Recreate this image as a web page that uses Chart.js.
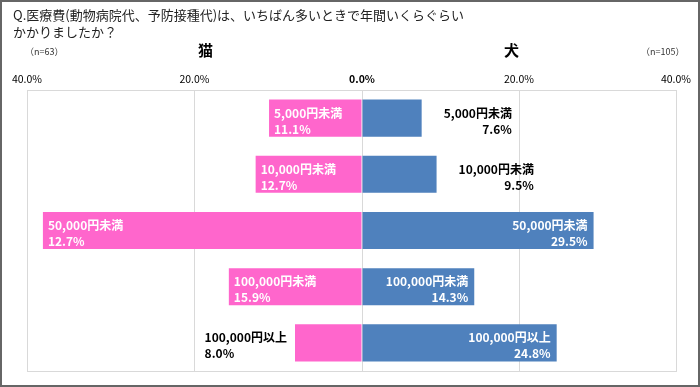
<!DOCTYPE html>
<html>
<head>
<meta charset="utf-8">
<script src="https://cdn.jsdelivr.net/npm/chart.js@4.4.1/dist/chart.umd.min.js"></script>
<style>
  body { margin: 0; background: #fff; }
  #wrap { position: relative; width: 700px; height: 387px; font-family: "Noto Sans CJK JP", sans-serif; }
  #wrap canvas { position: absolute; left: 0; top: 0; }
  #frame { position: absolute; left: 0; top: 0; width: 700px; height: 387px; box-sizing: border-box; border: 2px solid #666; pointer-events: none; }
  .txt { position: absolute; white-space: nowrap; line-height: 1; }
  .title { left: 13px; font-size: 13px; color: #222; }
  .n { font-size: 9px; color: #333; top: 47px; }
  .head { font-size: 15px; font-weight: bold; color: #000; top: 42px; }
</style>
</head>
<body>
<div id="wrap">
  <canvas id="catChart" width="700" height="387"></canvas>
  <canvas id="dogChart" width="700" height="387"></canvas>
  <div class="txt title" style="top:8px">Q.医療費(動物病院代、予防接種代)は、いちばん多いときで年間いくらぐらい</div>
  <div class="txt title" style="top:25px">かかりましたか？</div>
  <div class="txt n" style="left:25px">（n=63）</div>
  <div class="txt head" style="left:198px">猫</div>
  <div class="txt head" style="left:504px">犬</div>
  <div class="txt n" style="left:641px">（n=105）</div>
  <div id="frame"></div>
</div>
<script>
// ====================
// DATA
// ====================
const categories = ['5,000円未満', '10,000円未満', '50,000円未満', '100,000円未満', '100,000円以上'];
const catValues = [11.1, 12.7, 38.1, 15.9, 8.0];
const catValueLabels = ['11.1%', '12.7%', '12.7%', '15.9%', '8.0%']; // as printed
const dogValues = [7.6, 9.5, 29.5, 14.3, 24.8];
const dogValueLabels = dogValues.map(v => v.toFixed(1) + '%');
const tickValues = [0, 20, 40];

const CAT_COLOR = '#ff66cc';
const DOG_COLOR = '#4f81bd';
const GRID = '#d9d9d9';
const LABEL_FONT = 'bold 12px "Noto Sans CJK JP", sans-serif';

// labels next to / inside the bars
const barLabels = {
  id: 'barLabels',
  afterDatasetsDraw(chart, args, opts) {
    const ctx = chart.ctx;
    const meta = chart.getDatasetMeta(0);
    ctx.save();
    ctx.font = LABEL_FONT;
    ctx.textBaseline = 'middle';
    meta.data.forEach((bar, i) => {
      const lines = [categories[i], opts.texts[i]];
      const w = Math.max(...lines.map(t => ctx.measureText(t).width));
      const len = Math.abs(bar.x - bar.base);
      const inside = len > w + 10;
      let x;
      if (opts.side === 'left') {
        ctx.textAlign = 'left';
        x = inside ? bar.x + 5 : bar.x - 8 - w;
      } else {
        ctx.textAlign = 'right';
        x = inside ? bar.x - 6 : bar.x + 22 + w;
      }
      ctx.fillStyle = inside ? '#fff' : '#000';
      ctx.fillText(lines[0], x, bar.y - 5);
      ctx.fillText(lines[1], x, bar.y + 11);
    });
    ctx.restore();
  }
};

// light box round the plot area
const plotFrame = {
  id: 'plotFrame',
  beforeDatasetsDraw(chart) {
    const { ctx, chartArea: a } = chart;
    ctx.save();
    ctx.strokeStyle = GRID;
    ctx.lineWidth = 1;
    ctx.strokeRect(Math.round(a.left) + 0.5, Math.round(a.top) + 0.5,
      Math.round(a.right - a.left), Math.round(a.bottom - a.top));
    ctx.restore();
  }
};

function makeChart(id, values, color, side, texts) {
  const left = side === 'left';
  return new Chart(document.getElementById(id), {
    type: 'bar',
    data: {
      labels: categories,
      datasets: [{
        data: values,
        backgroundColor: color,
        borderWidth: 0,
        categoryPercentage: 1,
        barPercentage: 0.66
      }]
    },
    options: {
      indexAxis: 'y',
      responsive: false,
      animation: false,
      layout: {
        padding: left
          ? { left: 27, right: 338, top: 70, bottom: 16 }
          : { left: 362, right: 24, top: 70, bottom: 16 }
      },
      plugins: {
        legend: { display: false },
        tooltip: { enabled: false },
        barLabels: { side: side, texts: texts }
      },
      scales: {
        x: {
          position: 'top',
          min: 0,
          max: 40,
          reverse: left,
          afterBuildTicks: s => { s.ticks = tickValues.map(v => ({ value: v })); },
          afterFit: s => { s.height = 20; },
          grid: { color: GRID, drawTicks: false },
          border: { display: false },
          ticks: {
            padding: 5,
            color: '#000',
            maxRotation: 0,
            font: ctx => ({ family: '"Noto Sans CJK JP", sans-serif', size: 10.5,
              weight: ctx.tick && ctx.tick.value === 0 ? 'bold' : 'normal' }),
            callback: v => (left && v === 0) ? '' : v.toFixed(1) + '%'
          }
        },
        y: { display: false, offset: true }
      }
    },
    plugins: [plotFrame, barLabels]
  });
}

makeChart('catChart', catValues, CAT_COLOR, 'left', catValueLabels);
makeChart('dogChart', dogValues, DOG_COLOR, 'right', dogValueLabels);
</script>
</body>
</html>
